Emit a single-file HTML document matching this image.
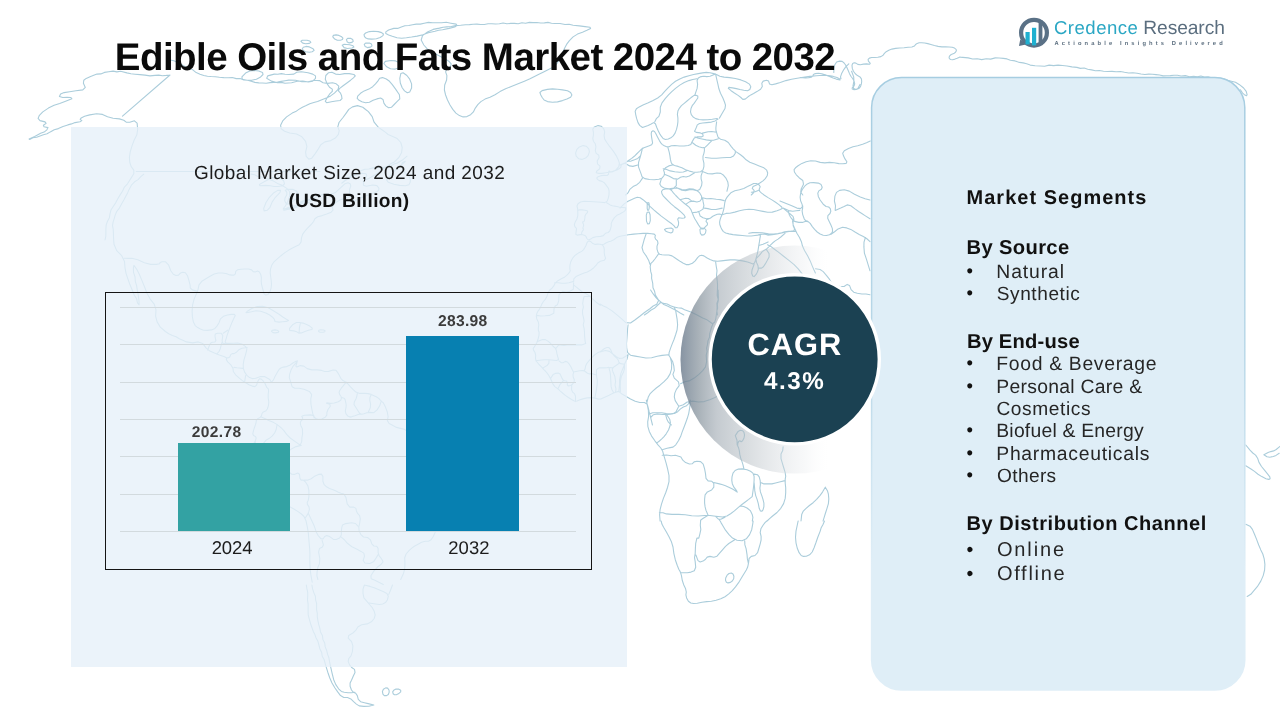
<!DOCTYPE html>
<html lang="en">
<head>
<meta charset="utf-8">
<title>Edible Oils and Fats Market 2024 to 2032</title>
<style>
html,body{margin:0;padding:0;background:#fff;}
body{width:1280px;height:720px;position:relative;overflow:hidden;font-family:"Liberation Sans",Arial,sans-serif;}
.t{position:absolute;white-space:nowrap;line-height:1;margin:0;padding:0;text-rendering:geometricPrecision;}
#map{position:absolute;left:0;top:0;width:1280px;height:720px;}
#leftpanel{position:absolute;left:70.6px;top:126.5px;width:556px;height:540.6px;background:rgba(230,240,249,0.80);}
#chartbox{position:absolute;left:104.9px;top:292px;width:487.2px;height:277.8px;border:1.25px solid #141414;box-sizing:border-box;}
.grid{position:absolute;left:120px;width:456px;height:1px;background:#d2dade;}
.bar{position:absolute;}
#bar1{left:178px;top:443px;width:112px;height:88px;background:#33a2a3;}
#bar2{left:406.2px;top:336px;width:112.7px;height:195px;background:#0780b1;}
#rightpanel{position:absolute;left:870px;top:76px;width:377px;height:616px;}
#cagrwrap{position:absolute;left:0;top:0;width:1280px;height:720px;}
</style>
</head>
<body>
<div id="map"><svg viewBox="0 0 1280 720" width="1280" height="720"><path d="M170.0 75.0L166.3 75.4L162.5 75.7L158.7 75.1L155.0 75.4L150.0 75.9L145.0 75.1L140.0 74.6L135.0 74.2L130.9 73.8L126.9 72.9L120.6 71.3L116.9 71.9L113.1 71.1L108.7 71.7L104.4 72.4L100.8 73.9L96.9 74.1L90.6 76.4L86.2 78.4L83.8 80.3L83.4 83.3L85.3 87.4L82.8 89.9L75.9 90.8L69.7 91.7L64.1 92.6L60.6 94.1L59.4 96.4L62.8 97.5L66.9 97.4L70.9 97.5L71.9 98.8L65.6 101.2L59.7 103.4L54.1 105.3L48.4 108.1L42.8 111.9L39.4 115.3L38.1 118.4L40.0 120.6L45.0 121.9L46.1 123.4L43.4 125.3L44.0 126.7L48.0 127.6L46.9 129.8L44.1 132.1L40.6 133.2L34.7 136.4L29.1 139.1L29.7 139.4L32.9 137.8L36.6 137.3L40.0 136.0L43.4 134.8L47.1 133.8L50.3 131.9L54.2 129.8L58.4 128.6L63.0 126.4L67.8 124.9L71.5 123.9L75.0 122.6L80.0 121.7L81.8 120.6L80.2 119.4L81.2 117.9L84.6 116.3L89.7 114.9L96.6 113.8L102.5 114.4L107.5 116.8L113.1 118.3L119.4 118.9L123.8 120.2L126.2 122.1L129.8 122.2L134.4 120.8L137.1 123.1L137.7 129.4L136.8 135.0L134.2 140.0L132.1 145.6L130.2 151.9L129.4 157.5L129.8 162.5L131.2 166.7L133.8 170.1L133.8 173.8L131.2 177.9L127.5 183.8L124.4 187.1L122.5 191.2L120.1 194.9L117.8 198.8L115.8 202.6L113.4 206.2L111.1 209.7L110.0 213.8L109.4 217.7L107.5 221.2L106.2 224.9L105.9 228.8L105.9 232.5L105.8 236.3L105.0 240.0M170.0 75.0L122.5 116.2M136.2 171.5L320.0 171.5M170.0 60.0L173.9 60.8L177.6 62.5L181.2 64.1L184.8 66.4L188.8 67.9L192.8 69.8L196.2 72.6L200.0 74.2L203.8 75.5L207.5 76.2L211.2 76.5L215.3 76.7L219.4 77.2L223.7 77.6L228.1 77.8L232.3 77.5L236.2 78.6L240.1 78.6L243.8 79.9L247.6 80.2L251.2 81.3L254.9 82.4L258.8 82.9L262.5 83.0L266.2 83.3L270.0 82.6L273.8 82.4L277.5 82.0L281.2 81.4L285.0 80.7L288.8 80.1L295.6 80.2L301.9 81.8L308.1 81.8L314.4 80.2L319.4 80.6L323.1 82.7L327.5 83.4L332.5 82.8L336.2 83.8L338.8 86.2L338.1 89.4L334.4 93.1L330.6 95.9L326.9 97.8L321.2 100.0L317.6 101.5L313.8 102.5L309.8 103.7L306.2 105.6L302.4 107.2L298.8 109.4L295.7 111.6L292.2 113.1L286.6 116.9L282.7 120.9L280.6 125.3L281.2 128.8L284.6 131.2L289.7 133.0L296.6 134.0L301.9 136.8L305.6 141.4L306.9 146.6L305.6 152.2L306.2 156.4L308.8 159.1L311.8 158.2L315.2 153.6L318.2 149.1L320.8 144.7L324.9 141.9L330.8 140.6L335.3 138.1L338.4 134.4L339.2 130.6L337.8 126.9L339.0 122.5L343.0 117.5L346.2 113.1L348.8 109.4L352.5 106.9L357.5 105.6L362.8 107.2L365.6 109.5L368.4 111.6L372.2 116.6L374.1 122.2L378.4 127.4L381.9 129.8L385.3 132.1L388.1 134.5L391.6 135.9L397.2 138.6L400.8 142.5L402.2 147.5L401.6 152.5L398.9 157.5L394.4 161.9L391.1 163.5L388.1 165.6L382.5 169.4L377.5 173.1L372.5 176.2L368.9 178.4L365.0 180.0M393.8 28.4L397.6 28.4L401.3 27.0L404.9 25.7L408.8 25.5L412.5 24.7L416.3 24.1L420.3 24.1L424.2 23.2L428.4 22.4L432.7 22.7L437.1 22.7L441.6 22.7L446.3 22.3L450.9 23.2L456.1 24.1L457.0 25.5L454.7 27.0L449.1 28.4L442.5 29.8L438.7 30.2L435.0 31.2L428.4 32.8L422.8 34.7L417.2 36.1L411.6 37.0L406.4 37.7L401.7 38.2L397.0 37.7L392.3 36.3L388.6 34.9L385.8 33.5L385.8 31.9L388.6 30.0ZM365.6 33.0L369.4 31.6L373.6 31.2L378.3 31.6L381.6 32.6L383.4 34.0L383.0 35.6L380.2 37.5L376.4 38.7L371.7 39.1L368.2 38.9L365.9 38.0L364.5 36.6L364.0 34.7ZM333.3 35.4L336.1 34.9L338.9 35.4L341.7 36.8L342.9 38.2L342.4 39.6L340.5 40.3L337.3 40.3L334.7 39.1L332.8 36.8ZM347.6 38.4L350.9 38.4L352.7 39.4L353.2 41.3L352.0 42.4L349.2 42.9L347.3 42.0L346.4 39.6ZM302.3 40.3L307.0 40.3L309.8 41.0L310.8 42.4L309.4 43.4L305.6 43.8L302.8 43.1L300.9 41.3ZM303.3 47.3L306.1 46.4L309.4 46.9L313.1 48.8L314.1 50.4L312.2 51.8L309.4 52.3L305.6 51.8L303.3 50.6L302.3 48.8ZM344.1 44.3L349.7 44.8L353.0 45.7L353.9 47.1L352.0 48.0L347.3 48.5L344.1 47.6L342.2 45.2ZM365.6 43.1L369.4 43.1L371.5 44.1L372.0 45.9L370.5 47.1L367.3 47.6L365.2 46.6L364.2 44.3ZM241.9 76.9L245.6 73.1L249.8 71.0L254.5 70.5L258.8 71.0L262.5 72.4L263.0 74.5L260.2 77.3L256.4 79.2L251.7 80.2L247.0 80.2L242.3 79.2ZM267.7 75.9L274.2 74.1L277.8 74.2L281.3 73.6L285.0 74.2L288.8 74.5L293.9 74.1L296.7 72.2L301.4 71.7L308.0 72.7L312.7 74.1L315.5 75.9L315.5 78.3L312.7 81.1L308.4 82.0L302.8 81.1L297.2 81.3L291.6 82.7L285.0 83.2L281.3 82.4L277.5 82.7L271.4 81.1L266.7 78.3ZM325.3 79.2L327.2 83.9L329.5 87.2L332.3 89.1L332.3 91.4L329.5 94.2L327.2 97.5L325.3 101.3L326.7 102.7L331.4 101.7L335.9 101.0L340.1 100.5L342.0 98.7L341.5 95.4L340.3 92.8L338.4 90.9L339.4 88.6L343.1 85.8L346.9 83.0L350.6 80.2L353.4 77.8L355.3 75.9L353.9 74.5L349.2 73.6L344.5 73.6L339.8 74.5L335.6 74.1L331.9 72.2L328.6 72.7L325.8 75.5ZM357.7 96.1L360.5 93.3L364.2 90.9L368.9 89.1L372.7 86.7L375.5 83.9L377.8 81.1L379.7 78.3L382.5 77.6L386.3 79.0L389.5 81.3L392.3 84.6L395.6 89.1L399.4 94.7L399.8 98.9L397.0 101.7L394.2 104.5L391.4 107.3L388.6 107.8L385.8 105.9L383.9 103.1L383.0 99.4L380.6 98.0L376.9 98.9L373.1 100.3L369.4 102.2L365.6 102.7L361.9 101.7L359.1 100.3L357.2 98.4ZM403.1 72.7L406.9 75.5L409.7 79.2L411.6 83.9L411.6 88.1L409.7 91.9L407.3 92.8L404.5 90.9L402.2 87.7L400.3 83.0L399.8 78.3L400.8 73.6ZM385.3 61.4L390.9 60.5L395.6 60.9L399.4 62.8L400.3 65.2L398.4 68.0L395.2 69.1L390.5 68.7L386.7 66.8L383.9 63.5ZM422.5 35.6L427.5 31.9L433.1 29.4L439.4 28.1L443.1 27.2L446.9 26.9L451.3 26.5L455.6 25.6L460.6 25.3L465.6 24.7L469.4 24.6L473.1 24.2L476.9 24.1L480.6 24.5L484.4 24.5L488.1 23.8L491.9 23.7L495.6 24.0L499.4 23.8L503.1 23.0L506.9 23.8L510.6 23.4L514.4 23.4L518.2 23.8L521.9 22.8L525.6 23.2L529.4 22.4L533.1 22.6L536.9 22.5L540.6 23.0L544.4 22.9L548.0 22.4L551.5 23.2L555.0 23.5L560.0 23.5L565.0 24.5L569.1 24.3L573.1 25.3L579.4 25.9L585.0 26.6L590.0 27.2L590.6 28.4L586.9 30.3L582.5 32.2L577.5 34.1L573.1 36.9L569.4 40.6L566.6 44.4L564.7 48.1L562.8 52.2L560.9 56.6L558.8 60.6L556.2 64.4L552.5 67.5L547.5 70.0L543.1 72.2L539.4 74.1L535.0 76.2L530.0 78.8L524.4 81.2L518.1 83.8L511.9 86.2L505.6 88.8L500.0 91.6L495.0 94.7L490.0 97.2L485.0 99.1L480.9 101.6L477.8 104.7L475.3 108.1L473.4 111.9L470.6 114.7L466.9 116.6L463.1 116.9L459.4 115.6L455.9 113.1L452.8 109.4L450.0 105.0L447.5 100.0L445.6 95.0L444.4 90.0L444.7 85.0L446.6 80.0L446.9 75.6L445.6 71.9L446.9 68.8L450.6 66.2L451.2 63.8L448.8 61.2L444.4 58.4L438.1 55.3L432.5 52.2L427.5 49.1L423.8 45.0L421.2 40.0ZM542.1 90.6L547.4 89.4L552.5 88.9L557.5 89.3L562.5 89.9L567.5 90.8L570.6 92.5L571.9 95.0L570.6 97.2L566.9 99.1L562.5 100.6L557.5 101.9L552.5 102.2L547.5 101.6L544.1 100.0L542.2 97.5L540.8 95.0L539.9 92.5ZM594.4 126.9L598.1 125.6L601.2 126.2L603.8 128.8L604.7 131.9L604.1 135.6L604.7 139.1L606.6 142.2L608.8 145.3L611.2 148.4L613.8 151.9L616.2 155.6L618.1 159.4L619.4 163.1L618.8 166.6L616.2 169.7L613.1 171.6L609.4 172.2L605.6 172.8L601.9 173.4L598.8 173.4L596.2 172.8L596.6 171.2L599.7 168.8L600.0 166.2L597.5 163.8L597.2 160.9L599.1 157.8L598.8 155.3L596.2 153.4L595.3 150.6L595.9 146.9L595.3 143.8L593.4 141.2L592.8 138.4L593.4 135.3L593.4 132.2L592.8 129.1ZM579.4 146.9L583.1 145.6L586.2 146.2L588.8 148.8L589.4 151.9L588.1 155.6L585.6 158.1L581.9 159.4L578.8 158.8L576.2 156.2L575.6 153.1L576.9 149.4ZM642.5 127.5L639.7 125.4L638.0 122.6L636.6 118.4L635.7 114.6L635.2 111.3L636.4 108.8L639.2 106.9L643.0 105.0L647.7 103.1L652.6 100.8L657.7 98.0L661.7 94.9L664.5 91.6L667.8 88.1L671.6 84.4L675.5 81.3L679.8 79.0L684.2 77.1L688.9 75.7L693.6 74.5L698.3 73.6L702.5 72.9L706.3 72.4L710.0 72.7L713.8 73.6L717.0 74.8L719.8 76.2L724.1 77.1L729.7 77.6L735.3 78.5L740.9 79.9L745.6 81.8L749.4 84.1L750.8 86.7L749.8 89.5L747.5 90.7L743.8 90.2L740.0 89.5L736.3 88.6L732.5 87.9L728.8 87.4L728.3 88.4L731.1 90.7L734.4 93.0L738.1 95.4L740.9 97.5L742.8 99.4L745.2 99.1L748.0 96.8L750.8 94.9L753.6 93.5L756.9 91.6L760.6 89.3L762.3 86.5L761.8 83.2L763.2 81.1L766.5 80.2L768.6 81.1L769.5 83.9L771.9 84.8L775.6 83.9L780.3 82.5L785.9 80.6L791.6 79.2L797.2 78.3L803.3 77.3L809.8 76.4L816.4 75.7L823.0 75.2L828.6 75.5L833.3 76.4L837.0 77.6L839.8 79.0L841.0 78.8L840.5 76.9L841.5 73.8L843.8 69.6L845.9 66.6L848.8 63.8M851.6 71.3L853.7 76.9L853.9 81.1L853.0 85.8L853.7 88.6L856.0 89.5L857.9 88.6L860.0 84.4M642.5 127.5L648.1 125.4L651.2 124.0L653.5 122.6L655.4 123.8L656.8 127.5L658.2 130.8L659.6 133.6L661.3 136.2L663.1 138.5L665.5 139.5L668.3 139.0L670.9 137.8L673.2 135.9L675.1 133.1L676.5 129.4L677.4 125.6L677.9 121.9L677.9 118.1L677.4 114.4L677.9 111.1L679.3 108.3L681.4 105.7L684.2 103.4L687.0 101.0L689.8 98.7L692.2 96.8L694.1 95.4L695.9 95.2L697.8 96.1L697.8 98.0L695.9 100.8L694.1 103.4L692.2 105.7L691.0 108.5L690.5 111.8L691.3 114.6L693.1 117.0L695.7 118.6L699.0 119.5L703.0 119.9L707.7 119.7L712.3 119.3L717.0 118.5L718.0 119.1L715.2 120.9L711.4 122.1L706.7 122.6L702.7 123.0L699.5 123.5L697.3 124.9L696.4 127.3L695.5 129.4L694.5 131.3L696.2 132.4L700.4 132.9L702.7 134.1L703.2 135.9L701.3 136.9L697.1 136.9L694.3 138.0L692.9 140.4L691.7 142.5L690.8 144.4L688.2 145.5L684.0 146.0L679.5 146.0L674.8 145.5L671.3 145.8L669.0 146.7L666.6 146.7L664.3 145.8L662.4 144.6L661.0 143.2L659.4 140.6L657.5 136.9L655.9 133.8L654.5 131.5L653.0 130.8L651.6 131.7L651.2 133.8L651.6 137.1L652.1 140.2L652.6 143.0L651.6 144.8L649.3 145.8L646.7 146.7L643.9 147.7L641.3 149.3L639.0 151.6L636.6 154.0L634.3 156.3L631.7 158.4L628.9 160.3L626.8 161.7L625.4 162.7L623.5 163.6L620.0 165.0M654.7 121.9L656.3 118.7L658.9 116.3L660.3 112.0L660.3 107.3L662.0 102.9L665.2 98.7L668.5 94.9L671.8 91.6L675.5 88.4L679.8 85.1L684.2 82.5L688.9 80.6L692.7 79.5L696.9 78.8M695.0 94.7L697.1 88.4L697.6 84.4L697.1 80.6L698.3 78.0L701.1 76.6L703.9 76.2L706.7 76.6L710.0 76.2L715.6 74.1M715.6 74.1L717.0 80.4L718.0 84.6L718.9 88.8L720.5 93.3L722.9 98.0L724.5 102.0L725.5 105.2L725.0 108.5L723.1 111.8L721.5 114.6L719.4 118.1M716.6 121.9L715.9 127.5L715.9 130.1L716.3 131.5L717.0 133.8L718.0 137.1L720.5 139.2L724.8 140.2L728.3 142.5L731.1 146.3L733.4 149.1L735.3 150.9L735.3 153.3L733.4 156.1L730.6 157.5L726.9 157.5L722.2 157.7L716.6 158.2L711.6 158.2L705.3 157.5M702.5 133.1L708.1 131.7L711.6 131.5L716.6 132.2M695.0 136.9L698.4 138.3L702.0 139.0L706.3 139.9L710.0 140.4L713.5 140.2L718.4 138.8M692.2 142.5L695.7 145.3L698.8 146.7L702.5 147.7L705.3 147.2L707.2 145.3L709.1 143.4L711.9 140.6M667.8 147.2L669.2 152.1L669.9 155.6L670.4 159.4L671.1 162.2L672.0 164.1L674.4 165.5L678.1 166.4L681.9 167.8L685.6 169.7L689.4 171.1L693.1 172.0L696.9 172.3L700.6 171.8L703.0 169.9L703.9 166.6L703.9 163.1L703.0 159.4L703.0 156.1L703.9 153.3L704.4 150.9L704.4 148.1M736.3 151.9L740.5 154.7L743.3 157.0L746.1 159.8L749.8 162.2L754.5 164.1L759.2 165.9L763.9 167.8L766.7 170.2L767.7 173.0L767.2 175.8L765.3 178.6L763.0 180.9L760.2 182.8L756.9 184.7L753.1 186.6L752.2 188.4L754.1 190.3L754.1 192.2L751.3 195.0M702.5 171.6L708.1 173.7L712.3 173.9L717.0 173.0L720.8 173.4L723.6 175.3L725.9 178.1L727.8 181.9L728.3 185.6L726.9 191.3M642.5 148.1L641.1 153.8L639.9 158.0L638.5 162.7L638.5 166.9L639.9 170.6L641.1 173.9L642.0 176.7L644.8 178.6L649.5 179.5L654.2 179.8L658.9 179.3L662.2 177.9L664.1 175.5L664.5 173.0L663.6 170.2L665.5 167.8L668.8 165.9L672.5 165.0M663.1 168.8L666.7 169.4L670.2 170.9L674.8 171.8L679.5 172.3L683.3 172.0L687.5 170.6M665.0 174.4L669.3 176.3L673.4 178.6L677.7 179.1L680.5 177.2L683.3 176.5L686.1 177.0L689.4 176.0L695.0 172.5M624.7 163.1L629.6 165.9L632.9 166.4L637.8 165.0M627.5 161.3L631.1 161.1L634.5 159.8L637.8 158.4L640.6 155.6M642.5 178.1L639.7 182.3L636.9 184.7L633.1 186.6L629.8 189.4L628.2 192.6L625.6 195.0M661.3 179.1L659.8 184.0L661.3 186.6L665.0 188.4L669.2 188.9L673.9 188.0L676.3 185.6L676.3 180.0M676.3 187.5L681.9 190.3L685.6 190.8L689.4 189.8L693.1 189.8L696.9 190.8L699.7 189.4L701.6 185.6L702.0 182.1L701.1 178.8L701.1 175.8L702.5 171.6M870.3 141.0L866.5 142.7L862.6 144.2L857.7 145.8L853.0 146.7L848.5 148.4L844.3 150.7L842.7 153.3L843.6 156.1L845.0 158.9L846.9 161.7L846.2 163.4L842.9 163.8L838.9 163.6L834.2 162.7L829.5 162.4L824.8 162.9L820.2 162.4L815.5 161.0L810.8 160.8L806.1 161.7L801.9 163.4L798.1 165.7L795.5 167.8L794.1 169.7L794.4 172.0L796.3 174.8L799.1 177.7L802.8 180.5L803.5 184.2L801.2 188.9L800.7 192.2L802.8 195.0M620.0 208.1L624.2 203.9L627.5 201.6L631.3 199.7L634.5 198.3L637.3 197.3L640.2 197.8L643.0 199.7L646.3 202.5L650.0 206.3L653.8 209.8L657.5 213.0L661.3 216.1L665.0 218.9L668.5 221.5L671.8 223.8L674.1 225.9L675.5 227.8L677.0 227.6L678.4 225.2L678.6 222.4L677.7 219.1L678.8 217.7L682.1 218.2L684.2 218.0L685.2 217.0L684.2 215.2L681.4 212.3L678.1 209.5L674.4 206.7L671.1 203.9L668.3 201.1L665.7 198.5L663.4 196.2L662.0 193.8L661.5 191.5L662.7 189.8L665.5 188.9L667.8 188.7L669.7 189.1L671.6 190.5L673.4 192.9L675.8 195.5L678.6 198.3L681.4 200.9L684.2 203.2L686.8 205.3L689.1 207.2L690.8 209.3L691.7 211.6L692.7 214.0L693.6 216.3L694.8 218.7L696.2 221.0L697.6 223.4L699.0 225.7L700.4 227.6L701.8 229.0L703.2 229.0L704.6 227.6L706.0 226.2L707.4 224.8L707.4 223.1L706.0 221.3L706.5 219.8L708.8 218.9L710.9 217.7L712.8 216.3L714.9 215.2L717.3 214.2L719.4 214.0L721.3 214.5L721.7 215.6L720.8 217.5L720.1 219.6L719.6 222.0L719.8 224.5L720.8 227.3L722.0 229.7L723.4 231.6L725.7 233.0L729.0 233.9L733.0 234.6L737.7 235.1L742.3 235.5L747.0 236.0L751.3 236.0L755.0 235.5L757.8 235.1L759.7 234.6L760.4 235.8L759.9 238.6L759.5 241.4L759.0 244.2L758.5 247.3L758.0 250.5L757.3 253.8L756.4 257.1L755.5 260.2L754.5 263.0L752.9 263.9L750.5 263.0L747.5 262.0L743.8 261.1L739.5 260.4L734.8 259.9L730.2 259.9L725.5 260.4L721.3 260.9L717.5 261.3L713.8 260.9L710.0 259.5L706.7 257.8L703.9 255.9L701.6 255.2L699.7 255.7L697.6 257.6L695.2 260.9L692.4 263.2L689.1 264.6L686.1 264.6L683.3 263.2L680.5 261.6L677.7 259.7L674.8 257.8L672.0 255.9L668.8 255.0L665.0 255.0L662.0 254.8L659.6 254.3L658.0 252.4L657.0 249.1L657.0 246.1L658.0 243.3L657.5 240.9L655.6 239.1L654.9 237.2L655.4 235.3L654.2 234.1L651.4 233.7L647.7 233.4L643.0 233.4L638.3 233.7L633.6 234.1L628.4 234.8L624.2 235.5L620.0 236.3M666.4 228.5L671.1 228.0L673.2 229.2L672.7 232.0L670.9 233.0L667.6 232.0L665.5 230.9L664.5 229.5ZM647.8 202.6L648.9 202.8L649.3 204.7L649.2 208.2L648.6 210.1L647.7 210.3L647.2 208.4L647.2 204.5ZM647.2 212.2L649.1 212.0L650.1 214.8L650.3 220.6L649.4 223.6L647.6 223.9L646.5 221.1L646.3 215.2ZM701.3 228.0L704.6 228.5L706.0 230.2L705.5 233.0L704.1 234.6L701.8 235.1L700.4 233.4L699.9 229.7ZM722.2 214.7L723.6 209.8L724.3 206.3L724.8 202.5L725.7 199.5L727.1 197.1L729.0 194.8L731.3 192.4L734.8 190.8L739.5 189.8L743.8 188.4L747.5 186.6L750.8 184.9L753.6 183.5L756.4 183.5L759.2 184.9L760.2 186.8L759.2 189.1L759.7 191.3L761.6 193.1L764.4 195.2L768.1 197.6L771.9 199.9L775.6 202.3L778.9 204.6L781.7 207.0L782.2 208.6L780.3 209.5L777.0 210.7L772.3 212.1L767.7 212.3L763.0 211.4L758.3 210.5L753.6 209.5L748.9 209.3L744.2 209.8L739.5 210.7L734.8 212.1L729.9 213.3L726.0 213.4L722.2 214.7M751.3 192.2L755.1 191.7L758.8 190.3M670.6 189.4L674.8 188.0L678.1 188.2L681.9 189.6L685.6 189.8L689.4 188.9L693.1 189.1L696.9 190.5L699.7 192.9L701.6 196.2L701.6 199.0L699.7 201.3L696.9 202.0L693.1 201.1L689.8 201.6L685.6 204.4M702.5 197.8L706.7 198.7L710.9 198.5L716.3 199.2L720.3 199.6L724.1 200.6M692.2 212.8L697.1 212.1L700.2 210.9L703.0 209.1L703.9 205.5L703.1 201.7L702.5 197.8M704.4 208.1L707.9 208.6L711.4 209.5L715.9 209.5L722.2 208.1M698.8 211.9L700.2 216.1L703.0 217.7L706.4 218.7L710.0 218.4M680.0 199.7L685.6 198.3L688.4 198.5L691.3 200.6M783.1 208.1L787.3 211.6L790.2 214.0L793.0 216.3L793.9 219.1L793.0 222.4L793.2 225.7L794.6 229.0L793.7 230.9L790.4 231.3L786.4 232.0L781.7 233.0L777.0 233.9L772.3 234.8L767.7 235.1L764.2 234.0L760.6 234.4M758.8 245.6L763.0 244.2L765.3 243.3L768.1 241.9M755.9 258.8L758.8 255.9L760.4 254.1L761.8 252.2L763.4 250.8L765.3 249.8L767.2 248.4L769.1 246.6L770.9 244.7L772.8 242.8L775.2 240.9L778.0 239.1L780.8 237.0L785.0 233.4M754.1 264.4L752.0 270.0L751.7 273.3L752.7 276.1L754.1 276.6L755.9 274.7L757.3 272.3L758.3 269.5L758.0 265.8L756.5 262.4L755.9 258.8M766.3 249.4L769.1 253.6L769.1 256.9L767.2 260.6L765.3 263.9L763.4 266.7L761.6 268.1L758.8 268.1M646.3 233.4L644.1 239.8L643.0 243.8L642.0 247.5L643.2 251.7L646.5 256.4L648.6 260.2L650.0 264.4M658.4 254.1L654.9 259.0L652.8 261.6L650.9 263.4L650.2 266.7L650.7 271.4L651.7 274.9L651.6 278.4L652.7 283.1L653.0 287.8L654.6 291.3L655.4 295.1L658.7 300.2L663.8 304.5L667.4 306.1L670.9 307.7L676.7 310.8L680.2 313.0L683.8 315.0M660.3 302.8L657.3 305.5L654.4 308.3L650.8 310.2L647.7 312.7L644.4 315.0M715.6 261.6L716.2 266.1L717.0 270.7L716.5 275.2L717.1 279.6L717.5 284.1L717.5 287.9L717.3 291.8L717.2 295.7L718.2 299.5L716.9 303.4L717.1 307.3L716.9 311.1L717.5 315.0M650.6 290.0L653.4 294.2L655.8 297.3L658.6 300.5L656.7 304.3L653.2 306.0L650.2 308.5L644.5 312.5L639.8 316.3L635.2 319.8L630.5 323.0L625.8 322.6L621.1 318.4L616.4 314.4L611.7 310.6L607.0 307.6L603.4 306.0L600.0 304.1M660.0 302.2L663.6 303.2L667.2 304.0L670.5 305.7L674.0 307.0L677.6 307.8L681.3 308.1L684.6 309.7L690.9 312.0L696.6 314.8L702.7 318.1L706.3 319.4L709.4 321.5L712.5 323.8M674.1 306.9L675.6 310.2L676.2 313.9L677.1 319.1L677.6 324.7L677.1 329.8L675.7 334.5L674.1 339.2L672.2 343.9L670.5 348.4L669.1 352.6L668.9 355.4L670.3 357.5M718.1 290.0L718.2 293.5L718.4 297.1L718.3 300.6L717.4 304.1L717.6 308.1L716.7 312.0L715.8 318.6L714.6 322.3L713.2 323.3L711.6 327.0L709.7 333.6L709.5 337.2L708.0 340.6L707.5 344.4L706.6 348.1L707.1 351.7L706.2 355.2L706.6 361.7L705.5 366.9L702.7 370.6L698.9 374.4L694.2 378.1L689.1 380.9L684.7 381.8L680.6 383.8M628.1 324.7L627.6 328.5L627.4 332.4L627.0 337.8L626.5 343.4L626.7 348.4L627.7 352.6L630.5 355.2L635.2 356.1L640.3 357.0L645.9 358.0L651.6 357.7L657.2 356.3L662.1 355.4L668.4 354.7M628.1 354.7L622.5 358.2L619.2 358.4L616.4 356.6L613.1 354.2L609.4 351.4L605.6 350.5L600.0 351.9M628.1 354.7L627.2 358.7L625.3 362.4L623.2 367.8L620.9 373.4L619.5 380.0L619.6 383.8L619.2 387.5L618.8 391.3M670.3 357.5L671.2 361.0L671.7 364.5L671.5 369.2L670.1 373.9L667.5 378.1L663.8 381.9L660.0 385.2L656.3 388.0L653.0 390.8L650.2 393.6L648.3 396.9L646.9 402.5M670.3 357.5L672.6 361.5L673.8 365.9L674.3 370.6L672.9 374.4L674.3 378.1L678.5 381.9L679.2 385.6L676.4 389.4L674.8 393.1L674.3 396.9L675.2 400.6L678.8 406.3M618.8 391.3L622.0 394.1L625.8 396.2L630.5 399.0L635.2 401.3L639.8 402.5L644.5 402.5L647.3 404.4L648.3 408.1L649.2 411.9L650.2 415.6L651.1 419.4L652.5 425.0M678.8 406.3L683.3 404.8L687.2 402.0L692.8 401.1L698.4 402.0L704.1 401.6L709.7 399.7L714.4 397.8L720.0 395.0M678.8 406.3L675.9 411.9L672.7 414.0L668.0 414.5L662.8 414.5L657.2 414.0L653.4 414.7L650.6 417.5M665.6 414.7L667.0 419.6L668.4 422.2L671.3 425.0M646.3 400.0L647.0 403.5L647.7 407.0L648.4 410.5L648.6 416.6L647.7 421.8L647.9 426.7L649.3 431.4L651.6 436.1L654.9 440.8L658.0 444.8L660.8 448.0L662.7 451.3L663.6 454.6L664.8 458.6L666.2 463.3L667.6 468.9L669.0 475.5L669.0 481.6L667.6 487.2L665.7 492.8L663.4 498.4L661.5 504.1L660.1 509.7L659.6 514.6L660.1 521.0M783.1 446.9L782.7 450.6L781.0 453.9L781.0 458.6L782.4 463.3L783.8 468.0L785.2 472.7L785.7 476.4L785.2 479.2L785.2 483.0L785.7 487.7L785.7 492.8L785.2 498.4L783.6 503.6L780.8 508.3L777.0 512.5L772.3 516.3L769.3 518.8L767.1 521.0M825.3 487.2L827.4 490.7L828.4 494.2L828.8 498.9L828.4 503.6L827.0 508.3L825.5 513.0L824.1 517.7L823.3 520.2L823.0 521.0M825.3 487.2L822.5 492.1L819.9 495.6L816.6 499.4L813.1 502.7L809.4 505.5L806.1 508.3L803.3 511.1L801.7 514.6L801.0 521.0M649.1 414.1L652.8 412.8L656.8 412.7L661.7 412.7L666.4 413.6L670.6 413.8L674.4 413.4L677.7 411.7L680.5 408.9L683.3 407.0L686.1 406.1L688.2 404.2L690.3 400.0M666.9 415.0L669.7 419.2L670.4 422.5L669.9 426.3L668.5 430.0L666.2 433.8L663.8 436.8L661.5 439.1L659.4 441.0L656.6 443.1M690.3 400.0L690.2 404.2L689.6 408.4L688.7 413.6L687.3 418.3L685.6 423.0L683.8 427.7L682.1 432.1L680.7 436.3L678.6 440.5L675.8 444.8L673.0 447.1L670.2 447.6L667.1 448.3L662.2 449.7M662.2 455.3L666.6 455.0L671.1 455.8L675.5 455.3L680.9 457.0L682.8 460.2L685.6 462.6L689.4 464.0L692.2 463.8L694.1 461.9L696.9 461.2L700.6 461.6L703.2 464.2L704.6 468.9L705.5 473.6L706.0 478.3L708.1 480.9L711.9 481.3L713.8 483.4L713.8 487.2L711.6 490.0L707.4 491.9L705.1 494.9L704.6 499.1L704.6 503.1L705.1 506.9L706.0 510.4L708.1 515.3M659.4 512.5L663.0 512.7L666.4 513.9L672.0 514.4L678.6 514.4L685.2 514.8L691.7 515.8L698.3 516.0L704.8 515.5L710.0 515.5L713.8 516.0L718.0 516.5L722.7 517.0L726.9 516.0L730.6 513.7L734.4 510.9L738.1 507.6L741.9 504.5L745.6 501.7L748.7 499.4L752.2 496.6M713.8 482.5L719.4 483.9L722.7 484.8L725.5 485.8L728.8 487.2L732.5 489.1L735.3 490.7L737.2 492.1L736.7 490.9L733.9 487.2L732.3 483.7L731.8 480.4L732.0 476.9L733.0 473.1L735.1 470.5L738.4 469.1L742.3 468.9L747.0 469.8L750.5 471.3L752.9 473.1L754.1 476.2L754.1 480.4L753.8 484.4L753.4 488.1L752.9 491.6L752.2 496.6M735.3 435.6L738.1 431.4L740.2 430.2L742.6 430.7L744.0 432.3L744.5 435.2L744.0 438.0L742.6 440.8L741.2 441.7L739.8 440.8L738.6 441.5L737.7 443.8L737.7 445.9L738.6 447.8L739.3 450.6L739.8 454.4L740.7 458.1L742.1 461.9L743.0 464.9L743.8 468.4M735.3 435.6L737.0 440.2L737.2 445.0M760.6 482.5L764.0 483.9L767.7 483.9L771.9 483.9L775.6 483.0L779.4 482.0L785.0 480.6M754.1 474.1L757.6 474.8L759.2 476.9L760.2 480.6L760.4 484.4L759.9 488.1L760.4 491.9L761.8 495.6L763.0 499.4L763.9 503.1L763.9 506.6L763.0 509.9L761.8 511.3L760.4 510.9L759.2 508.3L758.3 503.6L757.1 499.4L755.7 495.6L754.8 490.9L754.5 486.7L754.1 482.5M740.0 505.9L743.7 506.5L747.0 508.0L750.3 510.6L752.2 514.4L752.9 517.4L752.3 521.0M708.1 515.3L702.5 518.8L700.6 520.2L700.6 521.0M715.6 516.3L718.4 519.1L720.8 519.3L725.0 517.2M719.4 520.0L720.1 521.0M661.2 521.0L661.9 524.0L663.6 527.3L666.4 532.0L669.0 536.7L671.3 541.4L673.0 547.0L673.9 553.6L675.3 559.7L677.2 565.3L678.8 569.3L680.2 571.6L681.4 575.4L682.3 580.5L683.8 585.0L685.6 588.8L686.3 592.0L685.9 594.8L686.6 597.9L688.4 601.2L690.8 603.0L693.6 603.5L697.3 603.3L702.0 602.3L706.7 601.6L711.4 601.2L716.1 600.2L720.8 598.8L725.0 596.7L728.8 593.9L732.3 590.6L735.5 586.9L738.6 582.7L741.4 578.0L744.0 573.8L746.3 570.0L747.7 567.0L748.2 564.6L748.7 561.8L749.1 558.5L751.3 556.4L755.0 555.5L757.6 552.7L759.0 548.0L760.2 543.8L761.1 540.0L761.1 536.3L760.2 532.5L760.9 528.8L763.2 525.0L765.0 522.6L766.8 521.0M700.6 521.0L700.3 525.3L700.8 529.6L699.9 533.8L698.8 538.1L696.9 538.1L695.7 543.3L695.4 548.4L695.2 553.6L694.5 557.6L695.2 561.6L695.7 567.2L694.3 570.7L691.0 572.1L687.3 572.8L680.9 572.8M695.9 555.0L698.0 560.6L700.2 562.0L703.0 561.1L705.3 559.5L707.2 557.1L710.0 556.4L713.8 557.3L717.0 556.2L719.8 552.9L722.7 549.6L725.5 546.3L728.8 543.5L734.4 540.0M720.2 521.0L721.0 522.6L722.7 525.5L725.5 530.2L728.8 534.4L732.5 538.1L737.0 540.2L742.1 540.7L746.3 538.8L749.6 534.6L751.7 529.7L752.7 524.1L753.1 521.2L753.1 521.0M744.7 540.9L744.9 544.9L746.1 548.7L747.0 554.3L747.4 558.9L748.4 563.4M729.0 573.5L731.3 573.0L733.0 574.0L733.9 576.3L733.7 578.7L732.3 581.0L730.4 582.4L728.0 582.9L726.4 582.2L725.5 580.3L725.7 578.0L727.1 575.2ZM798.2 521.0L798.1 521.2L797.4 524.5L796.0 531.1L795.5 537.2L796.0 542.8L797.2 548.0L799.1 552.7L801.2 555.5L803.5 556.4L806.3 556.2L809.6 554.8L812.2 552.0L814.1 547.7L815.9 542.8L817.8 537.2L820.2 531.1L821.2 527.7L823.0 524.5L824.4 521.2L824.4 521.0M306.3 585.0L306.9 588.7L307.7 592.4L307.7 596.3L307.5 600.0L308.1 603.8L308.1 607.5L308.1 611.3L308.2 614.8L309.1 618.3L310.9 624.8L313.3 631.4L314.9 634.6L316.1 638.0L317.9 641.3L318.9 645.0L319.9 648.9L321.7 652.5L322.2 656.2L324.1 659.5L325.9 666.1L327.8 672.2L329.7 677.8L332.0 683.0L334.8 687.7L337.7 691.9L340.5 695.6L343.8 697.5L347.5 697.5L350.8 698.9L353.6 701.7L356.4 704.1L359.2 705.9L363.9 706.4L368.9 706.2L373.8 705.0M311.9 585.0L312.6 588.9L313.8 592.6L315.4 596.3L315.6 599.8L316.6 603.3L316.6 609.8L317.3 613.3L317.3 616.9L317.9 620.6L318.7 624.4L319.8 628.1L320.5 631.9L322.4 635.4L322.9 639.4L324.7 642.9L325.2 646.9L326.7 650.5L327.6 654.4L328.9 657.8L329.5 661.4L330.9 668.0L332.3 674.1L333.7 679.7L335.8 684.6L338.6 688.8L341.4 691.4L344.2 692.3L348.0 692.7L351.5 692.7L355.0 692.3M364.4 585.0L363.0 589.1L363.0 593.4L363.9 597.9L366.7 601.2L369.5 604.5L372.3 607.7L374.2 611.3L375.2 615.0L374.2 618.5L371.4 621.8L367.2 623.9L361.6 624.8L357.8 627.0L355.9 630.2L352.9 633.0L348.7 635.4L348.2 638.2L351.5 641.5L352.9 645.9L352.4 651.6L351.0 655.8L348.7 658.6L348.2 661.6L349.6 664.9L351.7 667.5L354.5 669.4L355.0 672.4L353.1 676.6L351.5 680.2L350.1 683.0L350.1 686.3L351.5 690.0L353.4 692.3L355.7 693.3L357.3 695.6L358.3 699.4L360.6 701.7L364.4 702.7L368.1 703.6L373.8 705.0M364.4 585.0L370.0 586.4L374.2 587.8L378.9 589.7L383.1 591.6L386.9 593.4L388.3 596.3L387.3 600.0L385.5 602.6L382.7 604.0L379.4 604.5L375.6 604.0L372.3 603.5L368.1 602.8M392.5 585.0L390.7 589.7L388.8 594.4M383.4 689.3L385.7 687.9L387.6 688.1L389.0 690.0L389.2 692.1L388.3 694.5L386.6 695.6L384.3 695.6L382.9 694.2L382.4 691.4ZM393.7 690.3L396.0 689.1L398.4 689.1L400.7 690.3L400.7 691.9L398.4 693.8L396.3 694.7L394.4 694.7L393.2 693.8L392.7 691.9ZM960.1 57.1L962.8 57.4L968.2 57.9L972.6 59.0L977.2 58.8L981.7 59.6L986.2 58.8L990.7 59.1L995.2 57.9L999.2 58.0L1003.3 58.4L1007.0 58.9L1010.4 60.2L1015.0 60.9L1019.4 62.4L1023.1 62.9L1026.7 63.8L1030.2 65.1L1035.1 65.8L1040.1 66.0L1044.6 66.2L1049.1 65.1L1053.6 65.6L1058.1 65.1L1062.5 65.5L1067.0 66.0L1071.9 66.9L1076.9 67.4L1080.4 68.4L1084.2 68.0L1087.7 69.2L1091.6 69.9L1095.4 70.7L1099.4 70.5L1103.5 71.2L1107.7 71.5L1112.0 71.4L1116.1 71.7L1120.4 71.5L1124.5 72.3L1128.7 73.0L1132.9 72.7L1137.1 73.2L1141.0 74.0L1144.8 74.5L1148.8 74.1L1152.4 74.3L1156.0 74.6L1159.6 75.0L1163.1 75.9L1166.7 75.8L1170.3 75.6L1174.0 75.3L1177.5 75.3L1181.1 76.0L1185.3 75.6L1189.5 76.8L1193.7 76.4L1197.3 76.9L1200.9 76.0L1204.5 77.1L1208.1 76.7L1212.2 78.0L1216.4 78.0L1220.6 78.3L1224.3 79.1L1227.8 80.3L1231.4 81.2L1235.5 82.3L1239.1 84.4L1243.6 88.0L1246.2 91.4L1247.1 94.7L1246.5 95.8L1244.4 94.7L1242.6 93.1L1240.4 89.8M1245.8 445.0L1250.0 450.2L1252.8 453.0L1255.6 455.1L1257.6 458.2L1259.0 462.4L1261.5 466.5L1264.9 470.7L1267.7 474.2L1269.8 476.9L1270.1 478.7L1268.8 479.4L1266.0 478.7L1261.8 476.6L1258.0 474.2L1254.5 471.4L1251.0 469.0L1245.8 465.8M1263.9 454.7L1268.1 452.6L1270.8 451.6L1273.6 450.9L1276.2 449.5L1280.0 446.4M1263.9 454.7L1267.0 456.8L1269.8 457.2L1273.3 456.5L1276.0 455.4L1279.2 453.3M1245.8 524.2L1250.0 526.2L1252.4 529.4L1254.5 534.2L1256.6 539.4L1258.7 545.0L1260.8 549.9L1262.8 554.0L1264.2 558.9L1264.9 564.4L1264.6 570.0L1263.2 575.6L1260.8 581.1L1257.3 586.7L1253.5 591.2L1250.8 594.3L1247.2 596.4M807.3 183.9L809.9 182.8L813.6 182.6L818.3 183.1L821.1 184.6L822.2 187.2L821.4 189.3L818.8 190.9L817.8 193.2L818.3 196.4L820.1 200.0L823.2 204.2L826.1 206.5L828.7 207.0L830.3 208.6L830.8 211.2L830.0 213.5L827.9 215.6L827.7 218.2L829.2 221.4L830.8 224.7L832.3 228.4L832.6 231.2L831.6 233.3L829.5 234.7L826.4 235.5L823.2 235.2L820.1 234.0L817.2 232.0L814.6 229.4L812.3 226.6L810.2 223.4L808.1 221.6L806.0 221.1L804.2 218.8L802.7 214.6L802.1 210.9L802.7 207.8L802.1 204.4L800.6 200.8L800.1 197.1L800.6 193.5L802.1 189.8L804.7 186.2ZM835.2 210.4L835.5 205.7L834.4 201.0L834.9 196.1L836.5 192.4L839.6 190.4L844.3 189.8L849.3 191.1L854.5 194.3L860.3 196.9L865.1 198.7L870.0 200.0M835.2 210.4L840.7 208.1L844.1 206.5L847.2 204.9L850.8 205.7L855.0 208.9L858.6 211.5L861.8 213.5L865.0 215.6L870.0 218.8M831.0 234.4L834.6 231.7L838.1 228.9L842.5 227.3L846.7 227.9L850.8 229.4L855.0 232.0L859.2 234.4L863.3 236.5L866.6 238.5L870.0 241.7M865.4 237.5L864.0 242.1L863.9 246.9L864.4 253.1L866.5 259.4L868.1 264.6L870.0 270.8M780.0 201.0L786.2 203.4L791.2 205.5L796.9 208.1L800.6 208.6L802.9 206.2M783.1 208.1L788.6 210.6L792.8 211.2L796.3 210.7L799.8 210.4M788.3 211.5L789.4 215.2L791.5 218.5L794.6 221.4L798.8 222.4L802.4 222.4L807.1 220.8M792.5 220.8L793.2 224.9L794.8 228.6L796.9 233.3L799.5 237.5L801.4 241.7L802.4 245.8L804.5 250.5L807.6 255.7L810.2 260.9L812.3 266.1L813.9 269.8L815.4 272.9M815.4 268.8L820.1 269.5L823.2 271.6L826.4 275.3L829.0 278.6L831.0 281.8L834.7 284.4L839.9 286.5L844.1 286.5L847.2 284.4L849.5 285.4L851.1 289.6L853.7 292.2L857.3 293.2L861.9 294.0L866.0 294.0L870.0 294.8M767.5 244.8L770.8 246.4L773.8 248.7L778.4 252.1L783.6 256.2L788.9 260.4L794.1 264.6L798.2 268.8L801.4 272.9L804.5 277.1L807.1 280.0L809.2 283.3M748.8 233.3L752.6 232.6L756.6 232.6L762.3 232.8L768.5 233.9L773.8 234.1L777.9 233.6L781.6 232.8L784.7 231.8L788.6 231.2L792.1 231.4L795.6 231.2M800.0 77.5L805.6 78.0L808.8 77.8L811.2 77.2L812.8 76.1L813.4 74.5L815.3 73.6L818.4 73.3L821.9 73.8L825.6 75.0L829.4 76.4L833.1 78.0L836.2 79.1L840.0 80.0M833.8 72.5L833.9 68.7L834.7 65.0L836.6 62.0L839.7 61.1L842.2 61.4L844.1 63.0L845.6 65.0L846.9 67.5L848.1 70.3L849.4 73.4L850.9 76.2L852.8 78.8L854.1 81.2L854.7 83.8L854.1 85.9L852.2 87.8L852.2 89.1L854.1 89.7L856.2 89.5L858.8 88.6L860.5 86.7L861.4 83.9L861.7 81.2L861.4 78.8L860.0 76.9L857.5 75.6L855.3 73.8L853.4 71.2L852.3 68.4L852.0 65.3L852.7 63.4L854.2 62.8L855.9 63.1L857.8 64.4L860.3 64.7L863.4 64.1L866.6 63.9L869.7 64.2L870.3 63.3L868.4 61.1L868.1 59.4L869.4 58.1L871.6 57.5L874.7 57.5L877.8 57.2L880.9 56.6L883.1 55.3L884.4 53.4L886.2 51.7L888.8 50.2L891.9 49.1L895.6 48.4L899.7 48.0L904.1 47.7L908.1 47.3L911.9 47.0L914.4 46.1L915.6 44.5L917.2 43.4L919.1 42.8L921.6 42.7L924.7 43.0L927.8 43.6L930.9 44.5L934.4 45.5L938.1 46.4L941.9 46.9L945.6 46.9L949.1 47.0L952.2 47.3L954.5 48.1L956.1 49.4L956.4 50.8L955.5 52.3L953.8 53.6L951.2 54.5L949.7 55.8L949.1 57.3L949.4 58.6L950.6 59.5L952.5 59.7L955.0 59.1L957.2 58.3L960.0 56.9M143.8 174.1L140.8 176.7L138.1 179.6L134.6 181.8L131.4 185.2L129.1 189.4L127.6 192.9L125.8 196.2L124.1 199.6L121.7 203.8L119.4 208.1L116.8 211.3L115.2 215.1L114.2 218.6L113.1 222.1L112.5 225.7L113.2 229.2L113.4 232.9L113.5 236.6L113.7 240.5L114.0 244.3L116.7 250.6L119.2 253.2L121.7 255.7L124.5 261.4L125.0 267.8L126.1 273.6L127.8 278.6L129.6 283.8L131.7 288.8L134.3 295.2L136.6 298.8L137.5 302.9L139.1 304.8L139.0 301.0L138.2 294.6L137.3 290.2L136.6 285.7L135.3 281.3L135.0 276.8L133.5 272.4L133.4 267.8L133.9 265.3L136.6 269.1L139.3 274.2L142.0 280.6L144.6 287.0L147.0 293.3L150.2 299.1L154.2 304.1L156.0 309.9L155.6 316.2L157.1 321.9L160.3 327.1L165.4 331.5L168.7 333.8L172.4 335.4L176.1 336.7L179.3 338.8L182.9 340.3L186.4 341.9L192.7 342.9L198.3 341.9L202.8 343.6L206.0 347.9L209.9 351.1L214.4 353.1L219.3 355.0L224.6 356.8L226.9 358.3L226.3 359.6L227.7 361.9L231.1 365.2L233.0 368.4L233.3 371.5L235.6 374.8L239.6 378.3L242.4 380.6L243.9 381.7L246.2 383.1L249.4 384.9L252.3 386.1L254.9 386.6L256.6 385.2L257.5 382.2L258.5 380.0L259.7 378.7L261.3 379.1L263.4 381.2L265.0 383.5L266.7 387.3M269.8 379.6L264.5 376.6L260.4 376.5L255.9 378.2L252.2 378.6L249.5 377.6L246.9 375.4L244.6 372.1L243.4 368.5L243.2 364.7L243.9 360.2L245.4 355.2L246.4 351.3L246.9 348.8L245.4 346.4L241.8 344.0L237.8 343.0L233.4 343.3L229.6 343.4L226.3 343.4L225.1 341.9L226.1 338.8L227.1 335.4L228.4 331.5L230.1 327.1L232.2 321.9L234.0 318.1L235.3 315.6L234.4 314.4L231.2 314.4L227.5 315.0L223.4 316.3L220.5 318.8L219.0 322.7L217.1 325.9L214.9 328.4L211.6 329.9L207.2 330.4L203.5 330.2L200.4 329.1L197.7 327.6L195.2 325.6L193.4 322.1L192.4 316.9L192.1 311.2L192.6 304.8L194.1 299.1L196.4 293.9L198.1 289.2L199.0 284.9L201.8 281.3L206.3 278.5L210.5 276.1L214.2 274.0L218.2 273.0L222.4 273.0L225.9 273.5L228.8 274.6L231.5 275.1L234.0 275.1L235.4 273.8L235.7 271.3L237.5 269.8L240.8 269.2L244.5 269.0L248.7 269.0L251.6 269.9L253.2 271.6L255.2 272.0L257.5 271.0L259.4 271.9L260.8 274.7L261.4 277.8L261.2 281.0L261.5 284.2L262.3 287.3L263.2 290.5L264.1 293.9L265.8 295.1L268.0 294.4L269.8 292.1L271.1 288.2L271.5 284.4L271.2 280.5L270.7 276.7L270.2 272.9L270.5 269.1L271.7 265.3L274.0 261.8L277.3 258.8L281.0 255.7L284.9 252.6L288.8 250.1L292.5 248.0L296.0 246.2L299.2 244.8L301.1 241.9L301.5 237.9L302.6 234.4L304.5 231.6L307.3 228.3L311.2 224.5L313.7 221.3L314.9 218.8L317.7 216.8L322.2 215.6L326.7 214.0L331.2 212.2L333.1 210.0L332.4 207.5L333.2 204.9L335.7 202.4L340.3 199.8L343.8 198.9L347.0 197.3L351.3 196.3L353.1 196.8L353.6 198.4L352.7 200.9L354.7 200.9L359.5 198.4L365.1 196.1L371.6 194.0L376.2 192.1L378.7 190.3L378.9 188.1L376.9 185.6L372.7 185.0L366.4 186.2L363.4 185.2L363.5 181.9L364.7 178.7L366.8 175.6L366.0 173.8L362.3 173.3L358.2 174.0L353.8 175.8L348.3 178.8L345.0 180.9L341.8 183.2L342.6 182.3L346.5 179.0L350.7 176.1L354.4 174.0L358.0 171.8L361.4 170.6L364.8 169.3L368.9 169.0L372.9 167.9L377.7 167.2L382.5 167.6L386.6 166.9L390.7 166.0L393.9 164.1L397.4 162.9L402.4 160.1L407.0 156.2M388.2 182.2L393.9 184.3L399.7 185.4L405.4 185.7L408.9 184.7L410.2 182.3L410.4 179.9L409.6 177.4L407.7 174.8L404.7 172.3L402.6 169.0L401.6 164.9L402.4 162.4L405.2 161.3L404.0 162.9L398.8 166.9L394.6 170.8L391.6 174.3L388.8 177.4L386.5 179.9ZM251.0 174.1L254.6 174.7L257.9 176.4L261.5 177.0L265.0 177.9L269.2 179.6L273.6 181.1L277.4 183.4L281.5 185.0L286.8 188.4L289.5 191.5L289.7 195.9L287.6 201.8L285.4 206.0L283.3 208.5L286.5 208.8L291.0 208.4L295.2 206.7L299.9 204.8L300.6 203.1L303.6 201.5L309.1 200.2L313.8 198.3L317.7 195.8L323.0 194.5L329.9 194.5L335.1 192.8L338.6 189.6L342.0 186.5L345.1 183.7L347.9 182.8L350.2 183.8L350.8 186.0L349.6 189.2L349.4 192.1L350.6 195.5M259.4 184.4L264.6 181.6L269.1 179.3L272.8 177.6L276.8 177.3L281.0 178.6L283.6 180.7L284.5 183.8L282.7 185.7L278.1 186.5L274.0 186.5L270.5 185.7L265.7 185.4L259.8 185.7ZM264.1 210.9L267.4 210.2L270.0 207.3L272.1 202.1L275.4 197.3L279.9 192.7L280.6 190.4L277.7 190.4L273.9 192.7L269.4 197.3L266.0 202.5L263.7 208.4ZM287.3 189.4L293.2 189.4L296.8 191.3L298.2 195.2L296.6 198.8L292.0 202.0L288.8 203.8L287.2 204.1L285.8 203.0L284.7 200.8L285.0 197.9L286.8 194.7L286.8 192.1L285.2 190.3ZM284.1 210.2L287.6 209.5L291.2 208.9L296.1 207.5L298.8 206.0L298.0 205.4L293.7 205.9L288.8 207.3L283.3 209.7ZM300.5 203.2L305.8 203.2L309.6 202.3L311.8 200.5L311.1 199.6L307.6 199.6L303.8 200.5L299.8 202.3ZM124.2 258.2L128.1 258.4L131.9 258.2L137.8 259.8L141.1 261.3L144.4 262.8L150.6 264.4L156.5 264.4L159.6 263.8L160.1 262.5L162.1 261.8L165.6 261.8L168.5 264.8L170.8 270.7L173.3 274.2L176.0 275.5L178.5 275.1L180.5 273.0L182.9 272.2L185.4 272.8L187.5 275.7L189.1 281.1L190.1 285.2L190.3 288.0L192.3 289.9L197.6 291.4M207.7 350.1L208.8 347.0L209.5 345.1L210.5 343.3L212.2 342.3L214.9 342.0L215.9 340.5L215.2 337.7L215.0 335.5L215.3 334.0L217.4 333.2L221.2 333.2L222.8 335.6L222.1 340.5L222.6 343.1L225.5 343.9M223.2 333.2L227.6 330.2M216.7 354.1L219.0 351.5L220.3 348.7L221.7 342.9M226.3 357.7L228.6 357.7L229.9 356.7L230.7 354.6L232.2 353.6L234.1 353.6L236.3 352.3L238.8 349.8L241.9 348.2L247.2 347.5M234.0 367.4L236.9 367.8L239.1 368.0L242.7 368.4M244.6 382.2L245.6 375.6M247.3 311.3L252.2 308.2L257.3 306.6L262.7 306.3L268.3 307.8L274.2 311.2L279.0 314.2L282.8 317.0L286.0 319.0L288.6 320.4L286.3 321.4L282.6 321.7L279.0 322.1L275.0 321.5L274.4 319.4L272.6 317.2L269.7 315.0L265.8 312.9L260.7 311.2L256.0 310.8L251.5 311.8L248.2 312.4L246.0 312.7ZM289.5 328.3L293.0 324.4L296.4 322.5L299.7 322.5L303.1 323.1L306.6 324.5L309.7 326.1L312.3 328.1L311.9 329.5L308.4 330.3L304.9 331.4L301.4 332.9L298.7 333.1L296.7 331.8L293.7 330.9L289.7 330.4ZM300.3 323.5L299.4 327.8L299.1 332.2M272.1 330.4L275.1 329.9L277.3 330.2L278.8 331.5L278.2 332.4L275.2 332.9L273.0 332.6L271.5 331.3ZM320.5 329.8L323.7 330.0L325.1 330.7L324.8 331.7L323.1 332.2L320.0 332.2L318.6 331.5L318.8 330.2ZM269.8 379.6L271.3 382.3L273.5 379.9L275.0 376.5L276.8 373.2L279.2 369.3L280.9 368.0L283.3 367.1L286.7 366.6L289.8 365.2L292.9 363.0L295.2 361.6L296.8 361.1L297.0 362.6L295.8 366.1L296.9 367.1L300.3 365.6L303.8 366.1L307.2 368.6L311.8 369.9L317.2 369.9L321.6 370.4L324.8 371.5L328.6 371.4L333.1 370.0L336.0 370.3L337.4 372.1L339.0 374.8L340.8 378.3L342.9 380.6L345.2 381.7L347.7 383.7L350.5 386.8L353.2 389.6L355.9 392.1L359.7 393.4L364.5 393.4L368.0 393.6L370.2 394.1L372.9 395.2L376.2 396.7L378.7 398.4L380.3 400.2L381.9 401.7L383.4 403.0L385.2 406.4L387.3 412.0L388.1 416.7L387.4 420.6L389.1 423.5L393.0 425.6L395.6 426.9L396.6 427.4L399.4 428.1L403.8 429.1L407.9 431.4L411.7 435.0L416.1 437.2L421.2 437.9L425.9 438.4L430.3 438.7L434.2 439.8L437.5 441.9L440.6 444.3L443.6 447.1L447.1 449.1L451.3 450.4L454.0 453.4L455.2 458.3L455.7 463.0L455.4 467.6L453.7 471.8L450.6 475.7L448.2 478.9L446.5 481.4L444.5 484.5L442.1 488.4L440.5 492.9L439.8 497.9L439.6 504.1L439.9 507.7L440.1 511.2L439.8 517.1L438.8 521.7L437.2 526.8L435.1 532.4L433.1 536.7L431.1 539.8L428.5 541.3L425.2 541.3L421.6 542.3L417.6 544.4L414.3 546.3L411.8 548.1L409.0 550.6L406.1 554.0L404.7 557.8L404.9 562.1L404.9 566.0L404.5 569.6L403.5 573.4L400.7 579.5M266.7 387.3L268.3 388.8L268.6 391.0L268.2 394.2L268.2 397.9L268.8 402.1L268.4 405.8L267.3 409.0L265.6 411.1L263.3 411.9L262.0 413.5L261.5 415.7L260.1 417.5L257.6 418.8L256.3 420.4L256.1 422.5L255.4 424.9L254.4 427.7L253.5 430.6L252.8 433.7L253.5 435.6L255.5 436.4L256.2 437.9L255.6 440.2L254.3 442.7L252.1 445.5L251.3 448.8L251.7 452.7L253.4 455.6L256.3 457.7L258.9 460.5L261.1 464.0L263.2 468.1L265.3 472.7L267.7 477.7L270.4 483.0L272.9 488.0L275.3 492.6L277.9 496.8L280.8 500.6L284.8 503.9L289.8 506.7L294.3 509.3L298.1 511.6L301.4 514.0L304.0 516.5L306.1 521.1L307.5 527.8L308.4 533.7L308.8 538.8L309.2 543.8L309.7 549.0L309.9 554.0L309.8 559.2L309.9 564.2L310.2 569.3L310.8 574.4L311.5 578.3L312.2 582.1M297.6 360.8L293.2 366.1L291.0 370.1L289.6 374.4L289.3 377.9L290.2 380.4L291.1 383.3L292.1 386.7L294.7 388.3L299.1 388.3L304.0 389.3L309.4 391.4L311.7 394.6L310.8 398.9L310.9 403.9L311.9 409.5L312.8 413.7L313.7 416.5L315.6 418.4L318.7 419.4L321.8 419.0L325.2 417.3L326.8 415.1L326.9 412.5L328.0 409.5L330.3 406.3L329.8 404.1L326.5 403.1L326.8 402.9L330.5 403.4L334.3 403.0L338.3 401.7L340.7 400.2L341.4 398.4L341.1 396.5L339.6 394.4L339.1 392.5L339.6 390.7L341.3 388.2L344.0 384.8L345.6 382.9L346.4 382.2M341.8 397.5L344.1 398.2L345.0 399.3L345.4 400.8L345.8 402.7L346.2 405.0L346.0 407.7L345.3 410.8L345.9 413.6L347.8 416.1L349.9 417.1L352.1 416.6L354.9 415.7L358.2 414.5L360.5 413.9L361.9 414.2L363.9 413.8L366.8 412.8L370.1 412.4L373.8 412.7L377.1 409.9L379.7 405.8L381.2 401.1M357.3 393.4L356.8 396.5L355.9 399.0L354.3 402.1L354.0 404.5L355.1 406.3L356.7 408.8L359.9 413.8M371.3 394.4L369.9 397.5L369.8 400.4L370.6 404.2L370.3 407.7L368.2 412.3M314.1 417.9L313.8 415.6L310.6 414.9L304.4 415.2L301.8 416.2L302.7 418.0L302.4 419.5L301.1 420.8L300.4 422.3L300.4 424.1L301.1 426.3L302.4 428.8L302.6 433.9L301.9 437.7L301.7 441.6L300.3 444.9L298.5 443.9L295.2 441.6L290.2 438.0L286.6 434.4L284.1 430.9L281.4 428.0L278.5 425.6L276.0 423.9L273.8 422.6L271.4 421.5L268.7 420.4L265.9 419.1L261.3 416.9M277.1 424.5L276.1 429.8L274.6 433.0L272.3 435.9L269.4 438.3L265.9 440.3L263.4 443.4L262.0 447.4L259.9 448.7L256.9 447.2L255.4 445.1L255.3 441.3M301.2 445.4L296.1 446.6L291.4 448.9L287.9 451.9L287.4 455.8L286.4 458.8L284.7 461.1L285.1 464.6L287.6 469.5L289.8 472.7L291.7 474.2L294.3 474.4L297.7 473.0L299.5 474.3L299.9 478.2L301.1 480.1L303.3 480.1L305.5 482.0L307.9 485.9L308.9 490.7L308.9 496.6L308.2 500.4L307.2 502.2L307.4 504.4L309.0 506.9L309.4 509.4L308.7 511.9L307.6 514.4L305.4 517.8M304.4 480.1L308.0 480.1L311.2 478.7L315.1 475.9L318.5 474.4L321.4 474.1L322.9 476.4L322.9 481.3L324.2 484.7L326.5 486.8L329.5 488.4L333.1 489.7L336.0 491.0L338.4 492.2L340.9 493.3L343.9 494.0L346.0 497.6L347.2 503.9L349.8 507.1L353.8 507.1L355.9 508.4L356.4 510.9L357.6 513.4L359.6 515.6L360.3 518.8L359.7 523.0L359.2 525.5L359.0 526.5L357.7 525.9L355.5 523.5L351.5 522.8L345.8 523.6L342.5 525.1L341.8 527.4L341.4 530.7L341.3 535.0L339.6 538.0L336.2 539.5L333.4 539.4L331.2 537.6L329.0 536.3L326.7 535.6L324.7 536.5L323.0 539.0L320.8 538.6L318.0 535.3L316.1 531.7L314.9 527.9L313.7 524.7L312.5 522.2L311.0 519.0L308.3 513.2M358.8 527.0L359.1 530.8L360.7 534.3L363.5 537.0L367.6 537.5L370.4 539.8L371.8 543.8L373.9 546.0L376.7 546.3L378.1 548.4L378.1 552.6L379.2 555.9L381.2 558.4L382.5 560.5L383.0 562.0L381.2 564.2L377.3 567.3L373.8 571.1L370.9 575.7L371.2 578.8L374.9 580.3L378.3 582.0L383.3 584.6M341.3 537.2L344.6 540.0L347.4 543.3L351.9 546.7L357.1 549.2L361.0 551.4L363.8 553.1L364.5 556.2L363.2 560.5L364.9 563.0L369.9 563.5L373.8 561.4L376.0 558.1L378.1 554.6M369.4 578.0M322.1 540.3L323.4 544.9L322.4 547.0L319.5 548.4L318.6 552.2L319.8 558.5L319.5 563.6L317.8 567.5L317.1 571.9L316.9 575.8L317.9 579.5M624.7 163.4L622.1 164.2L621.1 165.3L620.9 167.1L619.4 168.6L616.9 169.9L614.2 170.9L611.6 171.7L609.9 171.7L609.1 170.9L608.7 171.8L608.6 174.3L607.1 175.5L604.5 175.2L601.5 175.6L598.1 176.7L596.8 177.9L597.5 179.4L599.2 180.6L602.1 181.4L604.2 182.7L605.6 184.4L607.0 186.3L608.5 188.4L609.1 191.2L609.0 194.7L608.3 198.1L607.2 201.1L604.8 202.6L601.3 202.3L597.5 202.0L593.6 201.8L589.2 201.5L584.2 201.2L580.5 202.0L578.0 203.8L577.0 206.0L577.6 208.5L577.8 211.7L577.8 215.6L576.9 219.0L575.2 222.1L574.4 224.3L574.6 225.8L575.1 227.0L576.0 227.8L576.5 228.8L576.3 230.1L576.1 231.8L575.8 234.2L577.2 235.1L580.2 234.6L582.8 234.7L584.8 235.4L586.1 236.7L586.9 238.5L587.8 239.5L589.0 239.8L590.7 239.1L592.8 237.6L596.1 236.7L600.6 236.4L603.4 235.6L604.6 234.1L606.1 233.0L608.2 232.5L609.8 230.8L610.8 228.0L611.3 225.6L611.2 223.6L612.3 220.9L614.4 217.6L616.9 215.3L619.8 214.0L622.3 212.6L624.6 211.1L625.7 209.7L625.8 207.8M577.9 210.3L579.7 209.9L581.9 209.9L585.0 210.2L587.0 210.7L587.7 211.4L587.4 212.6L585.9 214.1L585.0 215.9L584.9 218.0L584.6 219.6L584.4 220.9L583.7 221.6L582.7 221.9L582.7 222.8L583.5 224.3L583.6 225.9L583.0 227.4L582.9 228.4L583.4 228.9L583.2 230.1L582.0 231.9L581.6 233.2L581.8 234.3M606.6 202.7L610.1 204.9L612.4 205.8L614.7 206.1L616.9 206.5L618.8 207.0L621.3 207.4L625.8 207.8M620.0 236.3L616.6 237.6L613.8 239.8L610.7 241.2L608.6 241.7L606.3 242.7L603.8 244.2L601.7 244.8L600.1 244.2L597.9 244.1L595.2 244.4L592.9 243.6L591.0 241.8L589.4 241.0L588.1 241.3L587.0 242.7L586.1 245.2L584.9 247.5L583.6 249.6L582.0 251.1L580.3 252.1L578.4 253.1L576.6 254.2L574.8 255.6L573.3 257.3L571.9 259.5L570.7 262.1L570.0 264.8L569.8 267.6L569.9 269.5L570.3 270.5L569.8 271.9L568.4 273.7L566.7 275.4L564.8 276.9L561.8 278.6L557.9 280.7L555.2 283.1L553.8 285.9L552.0 288.2L549.7 290.0L548.1 292.7L547.0 296.2L545.5 299.1L543.4 301.5L541.8 304.1L540.5 307.2L539.2 309.6L537.8 311.4L536.8 313.6L536.3 316.1L536.8 318.9L538.3 322.0L538.8 325.0L538.3 328.1L538.4 330.5L539.1 332.3L539.0 335.2L538.0 339.3L536.8 342.7L535.3 345.2L534.2 347.1L533.2 348.4L533.5 350.1L535.0 352.5L535.7 355.3L535.5 358.5L536.1 361.0L537.4 362.5L539.0 364.5L541.2 366.7L542.9 368.5L544.1 369.8L545.8 371.5L547.7 373.9L549.1 376.0L550.2 378.1L551.5 380.8L553.0 384.1L554.8 386.6L556.9 388.1L558.8 389.6L560.3 391.1L562.5 393.0L565.3 395.4L568.4 397.5L571.6 399.5L573.8 400.8L575.0 401.3L577.1 401.0L580.5 399.6L583.8 398.6L587.1 397.9L590.2 397.6L593.3 397.9L596.0 398.4L598.5 399.1L600.8 399.0L603.0 398.0L605.8 396.7L609.1 395.2L611.5 394.0L613.0 393.3L615.0 392.5L618.6 391.4M602.5 245.0L603.9 247.3L604.3 249.6L604.2 252.7L604.7 255.6L605.6 258.4L604.2 260.3L600.4 261.3L597.7 263.0L596.2 265.2L593.8 267.7L590.5 270.2L587.3 272.0L584.1 273.1L580.4 274.6L576.0 276.6L573.8 278.9L573.7 281.4L568.9 282.7L565.3 283.2L561.7 283.3L558.2 282.8L554.6 282.7M573.6 282.7L573.3 289.2L569.7 291.4L566.2 292.0L562.7 291.4L559.0 294.6L558.7 300.9L557.4 304.8L555.2 306.0L554.0 308.9L553.8 313.2L549.4 315.4L545.1 315.8L540.8 316.0L536.5 315.4M573.5 284.8L576.4 287.2L579.3 289.5L582.2 291.9L585.6 293.6L589.3 295.7L592.3 298.7L596.1 302.2L600.4 305.2M589.6 296.5L584.1 296.5L583.2 300.0L582.7 303.5L583.4 307.0L582.5 310.6L582.6 314.1L583.5 317.6L584.1 321.2L583.2 324.8L584.1 328.4L584.5 332.2L584.6 336.1L585.1 341.1L585.7 343.6L581.6 344.9L577.3 344.9L573.0 344.9L567.1 345.0L564.0 345.4L561.6 345.2L560.0 344.7L558.3 345.4L555.9 348.5M537.5 341.4L542.5 339.5L545.4 339.6L547.9 341.1L550.2 343.0L552.3 345.4L553.9 347.0L555.2 348.0L556.3 350.3L557.0 353.9L557.8 357.0L558.6 359.5L556.5 360.5L551.5 360.0L547.6 359.7L544.7 359.7L541.4 360.0L535.9 360.8M543.1 367.9L547.4 365.2L548.9 363.2L549.0 359.7M559.0 360.8L561.2 362.7L563.1 362.7L565.3 361.4L567.4 362.0L569.3 364.2L570.9 366.8L572.2 369.6L573.0 371.2L573.5 371.8L573.5 372.9L573.0 374.7L573.2 377.0L574.3 379.8L574.0 382.2L572.5 384.2L570.6 385.5L568.4 386.0L567.3 385.0L567.4 382.5L566.4 381.0L564.4 380.8L563.0 379.9L562.1 378.4L561.2 376.5L560.1 374.1L558.2 373.1L555.3 373.4L553.1 374.6L550.8 378.1M563.4 380.6L560.1 384.3L558.0 388.8M571.7 385.2L571.6 389.8L572.6 392.1L574.5 393.6L575.5 396.2L575.5 401.6M573.7 372.0L579.6 370.8L582.4 370.5L583.9 370.9L585.0 369.3L585.6 366.0L586.9 363.3L588.7 361.2L590.5 359.2L592.3 357.2L594.0 355.5L595.5 354.3L597.2 353.1L599.2 352.1L601.6 350.6L604.5 348.5L606.9 347.5L608.8 347.5L610.5 349.3L612.0 352.8L614.1 355.8L616.7 358.0L618.3 360.2L618.9 362.3L620.5 363.6L624.5 364.3M584.6 371.0L587.5 373.2L589.4 373.9L591.1 373.6L593.1 373.9L596.4 375.0M594.8 398.0L595.9 392.7L596.6 388.7L597.2 384.4L597.3 380.4L596.7 376.8L596.4 373.2L596.5 369.7L599.0 367.9L604.0 367.9L607.0 367.8L608.7 367.4M613.8 392.9L611.9 389.5L611.1 386.4L610.9 382.5L610.7 378.7L610.5 374.9L610.0 371.6L609.1 368.8L609.7 367.5L612.6 367.9M615.5 392.4L616.0 388.8L615.0 385.2L615.6 381.7L614.8 376.2L613.1 372.3L612.3 369.8L612.5 368.5L614.2 366.7L619.2 363.3M620.4 391.4L620.3 386.4L620.4 381.4L621.4 376.2L623.4 372.3L624.4 368.9L624.5 364.3" fill="none" stroke="#abcddb" stroke-width="1.1" stroke-linejoin="round" stroke-linecap="round"/></svg></div>

<section id="leftpanel"></section>
<div id="chartbox"></div>
<div class="grid" style="top:307px"></div>
<div class="grid" style="top:344.3px"></div>
<div class="grid" style="top:381.6px"></div>
<div class="grid" style="top:418.9px"></div>
<div class="grid" style="top:456.2px"></div>
<div class="grid" style="top:493.5px"></div>
<div class="grid" style="top:530.8px"></div>
<div class="bar" id="bar1"></div>
<div class="bar" id="bar2"></div>
<div class="t " id="t1" style="left:193.98px;top:164.65px;font-size:18.96px;letter-spacing:0.434px;color:#1c1c1c;">Global Market Size, 2024 and 2032</div>
<div class="t " id="t2" style="left:288.43px;top:192.22px;font-size:19.13px;letter-spacing:0.329px;color:#111;font-weight:700;">(USD Billion)</div>
<div class="t " id="t3" style="left:191.78px;top:424.93px;font-size:15.55px;letter-spacing:0.368px;color:#3b3b3b;font-weight:700;">202.78</div>
<div class="t " id="t4" style="left:437.89px;top:314.01px;font-size:15.64px;letter-spacing:0.326px;color:#3b3b3b;font-weight:700;">283.98</div>
<div class="t " id="t5" style="left:211.74px;top:538.74px;font-size:18.50px;letter-spacing:-0.151px;color:#1c1c1c;">2024</div>
<div class="t " id="t6" style="left:448.22px;top:538.77px;font-size:18.46px;letter-spacing:0.115px;color:#1c1c1c;">2032</div>

<svg id="rightpanel" viewBox="0 0 377 616">
<defs>
<linearGradient id="pb" x1="0" y1="0" x2="0" y2="1">
<stop offset="0" stop-color="#a6cde1"/>
<stop offset="0.45" stop-color="#b9d8e8"/>
<stop offset="0.8" stop-color="#dfeef7"/>
<stop offset="1" stop-color="#dfeef7"/>
</linearGradient>
</defs>
<rect x="1.6" y="1.6" width="373.2" height="612.3" rx="30" ry="30" fill="#dfeef7" stroke="url(#pb)" stroke-width="1.5"/>
</svg>

<svg id="cagrwrap" viewBox="0 0 1280 720">
<defs>
<linearGradient id="cg" x1="0" y1="0" x2="1" y2="0">
<stop offset="0" stop-color="#69798b" stop-opacity="0.8"/>
<stop offset="0.08" stop-color="#84919b" stop-opacity="0.7"/>
<stop offset="0.16" stop-color="#9ea8b1" stop-opacity="0.6"/>
<stop offset="0.30" stop-color="#b5bdc3" stop-opacity="0.5"/>
<stop offset="0.43" stop-color="#cfd4d9" stop-opacity="0.4"/>
<stop offset="0.55" stop-color="#e6e9ec" stop-opacity="0.28"/>
<stop offset="0.66" stop-color="#ffffff" stop-opacity="0"/>
<stop offset="1" stop-color="#ffffff" stop-opacity="0"/>
</linearGradient>
</defs>
<circle cx="794.5" cy="359.6" r="114" fill="url(#cg)"/>
<circle cx="794.7" cy="359.3" r="84.6" fill="#1b4152" stroke="#ffffff" stroke-width="3.4"/>
</svg>
<div class="t " id="t7" style="left:747.42px;top:330.32px;font-size:30.83px;letter-spacing:1.055px;color:#fff;font-weight:700;">CAGR</div>
<div class="t " id="t8" style="left:763.96px;top:370.09px;font-size:24.23px;letter-spacing:1.544px;color:#fff;font-weight:700;">4.3%</div>

<div class="t " id="t0" style="left:114.83px;top:38.63px;font-size:38.53px;letter-spacing:-0.561px;color:#0a0a0a;font-weight:700;">Edible Oils and Fats Market 2024 to 2032</div>

<!-- logo -->
<svg style="position:absolute;left:1014px;top:12px;width:44px;height:42px" viewBox="0 0 44 42">
<circle cx="20" cy="20.7" r="12.9" fill="#fff" stroke="#5a7186" stroke-width="4.2"/>
<path d="M6.2 27.5 L5 34 L12 32.4 Z" fill="#5a7186"/>
<rect x="11.5" y="20" width="4.2" height="12.5" fill="#1fb0d0"/>
<rect x="18" y="15.8" width="4.2" height="17.6" fill="#1fb0d0"/>
<rect x="24.6" y="8" width="3.8" height="25" fill="#5a7186"/>
</svg>
<div class="t " id="t32" style="left:1053.98px;top:19.46px;font-size:18.57px;letter-spacing:0.487px;color:#2ba7c4;">Credence</div>
<div class="t " id="t33" style="left:1143.30px;top:19.36px;font-size:19.19px;letter-spacing:-0.081px;color:#5b6e7f;">Research</div>
<div class="t " id="t34" style="left:1054.51px;top:42.34px;font-size:5.76px;letter-spacing:3.132px;color:#5b6e7f;font-weight:700;">Actionable Insights Delivered</div>

<div class="t " id="t9" style="left:966.52px;top:188.83px;font-size:19.93px;letter-spacing:1.061px;color:#111;font-weight:700;">Market Segments</div><div class="t " id="t10" style="left:966.50px;top:238.13px;font-size:20.16px;letter-spacing:0.369px;color:#111;font-weight:700;">By Source</div><div class="t " id="t11" style="left:966.52px;top:262.06px;font-size:18.50px;letter-spacing:0.000px;color:#111;">•</div><div class="t " id="t12" style="left:996.26px;top:263.02px;font-size:19.35px;letter-spacing:0.913px;color:#262626;">Natural</div><div class="t " id="t13" style="left:966.52px;top:284.36px;font-size:18.50px;letter-spacing:0.000px;color:#111;">•</div><div class="t " id="t14" style="left:996.80px;top:285.14px;font-size:19.06px;letter-spacing:0.585px;color:#262626;">Synthetic</div><div class="t " id="t15" style="left:966.89px;top:331.53px;font-size:20.16px;letter-spacing:0.204px;color:#111;font-weight:700;">By End-use</div><div class="t " id="t16" style="left:966.52px;top:354.46px;font-size:18.50px;letter-spacing:0.000px;color:#111;">•</div><div class="t " id="t17" style="left:996.26px;top:355.42px;font-size:19.35px;letter-spacing:0.687px;color:#262626;">Food &amp; Beverage</div><div class="t " id="t18" style="left:966.52px;top:377.36px;font-size:18.50px;letter-spacing:0.000px;color:#111;">•</div><div class="t " id="t19" style="left:996.26px;top:378.32px;font-size:19.35px;letter-spacing:0.288px;color:#262626;">Personal Care &amp;</div><div class="t " id="t20" style="left:996.40px;top:399.90px;font-size:19.15px;letter-spacing:0.612px;color:#262626;">Cosmetics</div><div class="t " id="t21" style="left:966.52px;top:421.46px;font-size:18.50px;letter-spacing:0.000px;color:#111;">•</div><div class="t " id="t22" style="left:996.26px;top:422.42px;font-size:19.35px;letter-spacing:0.215px;color:#262626;">Biofuel &amp; Energy</div><div class="t " id="t23" style="left:966.52px;top:444.06px;font-size:18.50px;letter-spacing:0.000px;color:#111;">•</div><div class="t " id="t24" style="left:996.26px;top:445.02px;font-size:19.35px;letter-spacing:0.729px;color:#262626;">Pharmaceuticals</div><div class="t " id="t25" style="left:966.52px;top:465.96px;font-size:18.50px;letter-spacing:0.000px;color:#111;">•</div><div class="t " id="t26" style="left:997.01px;top:466.76px;font-size:19.11px;letter-spacing:0.365px;color:#262626;">Others</div><div class="t " id="t27" style="left:966.50px;top:513.56px;font-size:20.01px;letter-spacing:0.546px;color:#111;font-weight:700;">By Distribution Channel</div><div class="t " id="t28" style="left:966.42px;top:540.64px;font-size:19.61px;letter-spacing:0.000px;color:#111;">•</div><div class="t " id="t29" style="left:996.93px;top:540.03px;font-size:20.03px;letter-spacing:1.852px;color:#262626;">Online</div><div class="t " id="t30" style="left:966.42px;top:564.74px;font-size:19.61px;letter-spacing:0.000px;color:#111;">•</div><div class="t " id="t31" style="left:996.93px;top:564.13px;font-size:20.03px;letter-spacing:1.711px;color:#262626;">Offline</div>
</body>
</html>
